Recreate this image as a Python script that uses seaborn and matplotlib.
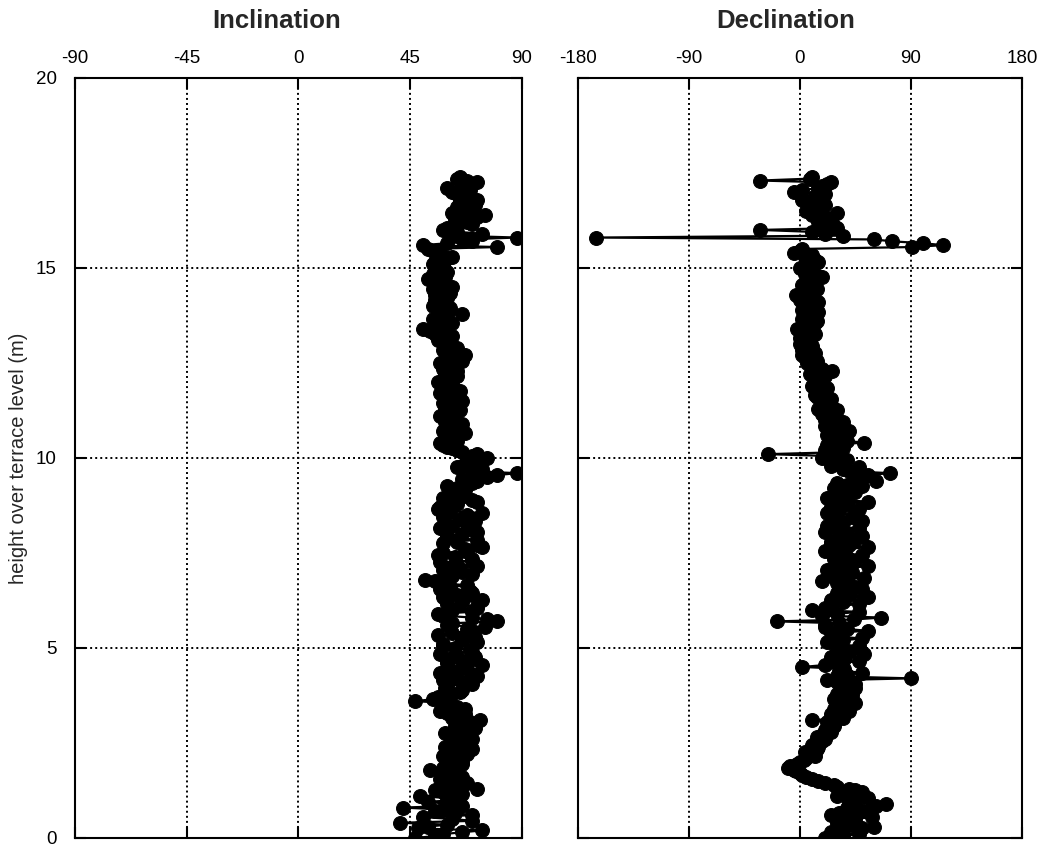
import numpy as np
import pandas as pd
import matplotlib
matplotlib.use("Agg")
import matplotlib.pyplot as plt
import seaborn as sns

sns.set_style("ticks")
plt.rcParams['font.family'] = ['Liberation Sans', 'DejaVu Sans']
plt.rcParams['axes.unicode_minus'] = False

# ====================
# data
# ====================
# samples on the whole decimetres (plus the disturbed zone near 15.6 m)
height = [
    0.0, 0.1, 0.2, 0.3, 0.4, 0.5, 0.6, 0.7, 0.8, 0.9,
    1.0, 1.1, 1.2, 1.3, 1.4, 1.5, 1.6, 1.7, 1.8, 1.9,
    2.0, 2.1, 2.2, 2.3, 2.4, 2.5, 2.6, 2.7, 2.8, 2.9,
    3.0, 3.1, 3.2, 3.3, 3.4, 3.5, 3.6, 3.7, 3.8, 3.9,
    4.0, 4.1, 4.2, 4.3, 4.4, 4.5, 4.6, 4.7, 4.8, 4.9,
    5.0, 5.1, 5.2, 5.3, 5.4, 5.5, 5.6, 5.7, 5.8, 5.9,
    6.0, 6.1, 6.2, 6.3, 6.4, 6.5, 6.6, 6.7, 6.8, 6.9,
    7.0, 7.1, 7.2, 7.3, 7.4, 7.5, 7.6, 7.7, 7.8, 7.9,
    8.0, 8.1, 8.2, 8.3, 8.4, 8.5, 8.6, 8.7, 8.8, 8.9,
    9.0, 9.1, 9.2, 9.3, 9.4, 9.5, 9.6, 9.7, 9.8, 9.9,
    10.0, 10.1, 10.2, 10.3, 10.4, 10.5, 10.6, 10.7, 10.8, 10.9,
    11.0, 11.1, 11.2, 11.3, 11.4, 11.5, 11.6, 11.7, 11.8, 11.9,
    12.0, 12.1, 12.2, 12.3, 12.4, 12.5, 12.6, 12.7, 12.8, 12.9,
    13.0, 13.1, 13.2, 13.3, 13.4, 13.5, 13.6, 13.7, 13.8, 13.9,
    14.0, 14.1, 14.2, 14.3, 14.4, 14.5, 14.6, 14.7, 14.8, 14.9,
    15.0, 15.1, 15.2, 15.3, 15.4, 15.5, 15.55, 15.6, 15.65, 15.7,
    15.75, 15.8, 15.85, 15.9, 16.0, 16.1, 16.2, 16.3, 16.4, 16.5,
    16.6, 16.7, 16.8, 16.9, 17.0, 17.1, 17.2, 17.3, 17.4,
]

inclination = [
    47, 58, 74, 52, 41, 62, 70, 55, 42, 60,
    64, 49, 58, 72, 63, 60, 66, 58, 53, 62,
    66, 61, 68, 63, 59, 65, 70, 62, 66, 71,
    65, 73, 64, 60, 67, 58, 47, 56, 62, 66,
    60, 68, 64, 71, 62, 66, 60, 69, 64, 70,
    63, 58, 66, 71, 62, 68, 60, 80, 70, 56,
    62, 72, 66, 60, 64, 69, 61, 58, 51, 62,
    66, 60, 64, 70, 63, 58, 67, 72, 64, 60,
    66, 70, 62, 59, 65, 68, 61, 57, 64, 70,
    66, 61, 64, 68, 72, 76, 88, 74, 66, 70,
    76, 72, 64, 60, 57, 60, 63, 58, 62, 66,
    60, 57, 63, 59, 62, 66, 60, 57, 63, 60,
    56, 62, 59, 64, 60, 57, 63, 67, 61, 64,
    60, 56, 62, 58, 50, 55, 60, 57, 66, 58,
    54, 57, 60, 55, 58, 62, 56, 52, 57, 60,
    56, 54, 59, 62, 57, 52, 80, 50, 60, 70,
    66, 88, 62, 74, 58, 64, 68, 63, 75, 70,
    64, 68, 72, 66, 62, 60, 70, 68, 65,
]

declination = [
    20, 48, 35, 60, 30, 45, 25, 55, 38, 70,
    45, 30, 50, 40, 28, 15, 5, 0, -5, -8,
    0, 5, 10, 8, 15, 12, 20, 18, 25, 22,
    28, 10, 30, 35, 28, 40, 32, 38, 30, 42,
    35, 30, 90, 38, 32, 2, 30, 36, 28, 40,
    32, 28, 35, 30, 25, 38, 20, -19, 66, 30,
    10, 25, 35, 28, 40, 32, 45, 30, 38, 28,
    42, 35, 30, 45, 38, 28, 35, 40, 25, 32,
    38, 30, 22, 35, 28, 45, 32, 25, 38, 30,
    35, 45, 28, 38, 62, 45, 73, 35, 25, 30,
    18, -26, 20, 28, 52, 30, 22, 40, 25, 30,
    20, 28, 22, 15, 25, 18, 14, 20, 15, 10,
    18, 12, 8, 26, 14, 6, 10, 2, 8, 5,
    0, 6, 10, 4, -2, 8, 14, 5, 10, 2,
    8, 15, 5, -3, 8, 12, 4, 10, 15, 6,
    0, 8, 12, 4, -5, 2, 91, 116, 100, 75,
    60, -165, 35, 20, -32, 28, 15, 22, 10, 5,
    18, 8, 2, 12, -5, 15, 22, -32, 10,
]

# samples in between (half decimetres)
height_b = [
    0.05, 0.15, 0.25, 0.35, 0.45, 0.55, 0.65, 0.75, 0.85, 0.95,
    1.05, 1.15, 1.25, 1.35, 1.45, 1.55, 1.65, 1.75, 1.85, 1.95,
    2.05, 2.15, 2.25, 2.35, 2.45, 2.55, 2.65, 2.75, 2.85, 2.95,
    3.05, 3.15, 3.25, 3.35, 3.45, 3.55, 3.65, 3.75, 3.85, 3.95,
    4.05, 4.15, 4.25, 4.35, 4.45, 4.55, 4.65, 4.75, 4.85, 4.95,
    5.05, 5.15, 5.25, 5.35, 5.45, 5.55, 5.65, 5.75, 5.85, 5.95,
    6.05, 6.15, 6.25, 6.35, 6.45, 6.55, 6.65, 6.75, 6.85, 6.95,
    7.05, 7.15, 7.25, 7.35, 7.45, 7.55, 7.65, 7.75, 7.85, 7.95,
    8.05, 8.15, 8.25, 8.35, 8.45, 8.55, 8.65, 8.75, 8.85, 8.95,
    9.05, 9.15, 9.25, 9.35, 9.45, 9.55, 9.65, 9.75, 9.85, 9.95,
    10.05, 10.15, 10.25, 10.35, 10.45, 10.55, 10.65, 10.75, 10.85, 10.95,
    11.05, 11.15, 11.25, 11.35, 11.45, 11.55, 11.65, 11.75, 11.85, 11.95,
    12.05, 12.15, 12.25, 12.35, 12.45, 12.55, 12.65, 12.75, 12.85, 12.95,
    13.05, 13.15, 13.25, 13.35, 13.45, 13.55, 13.65, 13.75, 13.85, 13.95,
    14.05, 14.15, 14.25, 14.35, 14.45, 14.55, 14.65, 14.75, 14.85, 14.95,
    15.05, 15.15, 15.25, 15.35, 15.45,
    15.95, 16.05, 16.15, 16.25, 16.35, 16.45, 16.55, 16.65, 16.75, 16.85,
    16.95, 17.05, 17.15, 17.25, 17.35,
]

inclination_b = [
    55, 66, 48, 60, 70, 50, 63, 58, 66, 52,
    60, 66, 55, 62, 68, 57, 62, 64, 58, 66,
    63, 58, 65, 70, 61, 67, 64, 59, 68, 63,
    69, 62, 67, 57, 64, 61, 54, 60, 65, 59,
    70, 58, 72, 57, 68, 74, 60, 71, 57, 69,
    58, 72, 66, 56, 70, 75, 62, 76, 58, 70,
    72, 60, 74, 58, 70, 57, 68, 55, 59, 70,
    58, 72, 57, 70, 56, 68, 74, 58, 72, 60,
    72, 57, 68, 71, 58, 74, 56, 60, 72, 58,
    64, 67, 60, 70, 66, 80, 70, 64, 72, 68,
    70, 66, 62, 58, 64, 61, 67, 60, 64, 59,
    62, 60, 65, 61, 58, 63, 61, 65, 58, 62,
    59, 64, 61, 58, 62, 66, 60, 63, 58, 62,
    58, 60, 55, 53, 58, 62, 54, 60, 56, 61,
    59, 55, 58, 61, 54, 58, 55, 59, 54, 58,
    58, 55, 60, 56, 54,
    64, 60, 70, 66, 72, 62, 67, 71, 65, 68,
    64, 69, 66, 72, 64,
]

declination_b = [
    35, 25, 50, 42, 38, 58, 32, 48, 62, 40,
    55, 38, 45, 30, 20, 10, 2, -3, -10, -2,
    3, 12, 4, 14, 10, 18, 14, 22, 20, 28,
    22, 35, 25, 40, 32, 45, 28, 42, 36, 45,
    45, 22, 30, 50, 36, 20, 48, 25, 52, 35,
    48, 22, 50, 30, 55, 20, 32, 44, 18, 48,
    20, 48, 25, 55, 30, 50, 40, 18, 52, 30,
    22, 55, 40, 28, 50, 20, 55, 25, 45, 50,
    20, 48, 28, 50, 42, 22, 48, 30, 55, 22,
    40, 32, 50, 30, 45, 55, 40, 48, 32, 38,
    25, 30, 35, 22, 38, 28, 35, 30, 20, 35,
    25, 18, 30, 22, 20, 25, 12, 18, 22, 14,
    16, 20, 12, 18, 10, 14, 6, 12, 2, 10,
    4, 0, 12, 6, 2, 12, 2, 8, 15, 6,
    12, 0, 10, 5, 14, 2, 8, 18, 4, 10,
    4, 15, 6, 10, 0,
    10, 30, 18, 25, 15, 30, 12, 20, 5, 15,
    20, 2, 18, 25, 8,
]

panels = ["Inclination", "Declination"]
title_x = [0.45, 0.468]
x_limits = [(-90, 90), (-180, 180)]
x_ticks = [[-90, -45, 0, 45, 90], [-180, -90, 0, 90, 180]]
y_ticks = [0, 5, 10, 15, 20]

df = pd.concat([
    pd.DataFrame({"height": height, "Inclination": inclination,
                  "Declination": declination}),
    pd.DataFrame({"height": height_b, "Inclination": inclination_b,
                  "Declination": declination_b}),
]).sort_values("height").reset_index(drop=True)

# ====================
# figure
# ====================
fig = plt.figure(figsize=(10.44, 8.49), dpi=100)
ax1 = fig.add_axes([0.0718, 0.0130, 0.4282, 0.8952])
ax2 = fig.add_axes([0.5536, 0.0130, 0.4253, 0.8952])

for ax, name, tx, lim, ticks in zip([ax1, ax2], panels, title_x, x_limits, x_ticks):
    sns.lineplot(data=df, x=name, y="height", ax=ax, sort=False,
                 estimator=None, color="black", linewidth=1.6,
                 marker="o", markersize=10, markeredgecolor="black",
                 markerfacecolor="black")
    ax.set_xlim(lim)
    ax.set_ylim(0, 20)
    ax.set_xticks(ticks)
    ax.set_yticks(y_ticks)
    ax.xaxis.tick_top()
    ax.tick_params(axis="both", direction="in", length=8, width=1.5,
                   top=True, bottom=True, left=True, right=True,
                   labelsize=13.5, colors="black")
    ax.tick_params(axis="x", pad=8)
    ax.tick_params(axis="y", pad=13)
    ax.grid(True, color="black", linestyle=(0, (1, 1.6)), linewidth=1.4)
    for s in ax.spines.values():
        s.set_linewidth(1.5)
        s.set_color("black")
    ax.set_xlabel("")
    ax.set_ylabel("")
    ax.set_title(name, fontsize=18.5, fontweight="bold", pad=36, x=tx)

ax1.set_ylabel("height over terrace level (m)", fontsize=14.5, labelpad=6)
ax2.tick_params(labelleft=False)

plt.savefig("out.png", dpi=100)
